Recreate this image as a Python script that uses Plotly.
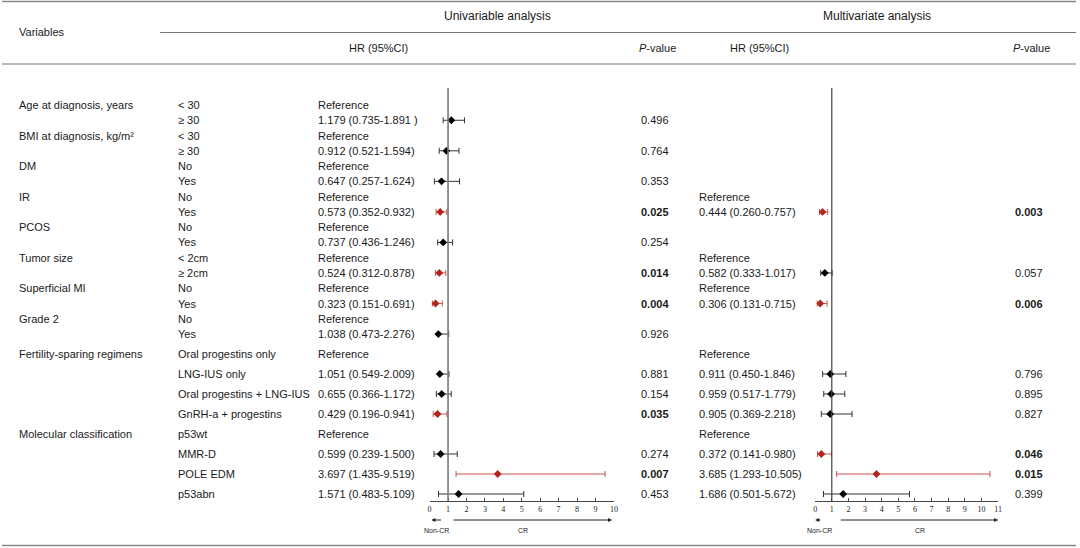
import plotly.graph_objects as go

W, H = 1080, 548

# ---------------- data ----------------
variables = ["Age at diagnosis, years", "", "BMI at diagnosis, kg/m²", "", "DM", "", "IR", "",
             "PCOS", "", "Tumor size", "", "Superficial MI", "", "Grade 2", "",
             "Fertility-sparing regimens", "", "", "", "Molecular classification", "", "", ""]
subcats = ["< 30", "≥ 30", "< 30", "≥ 30", "No", "Yes", "No", "Yes", "No", "Yes",
           "< 2cm", "≥ 2cm", "No", "Yes", "No", "Yes",
           "Oral progestins only", "LNG-IUS only", "Oral progestins + LNG-IUS", "GnRH-a + progestins",
           "p53wt", "MMR-D", "POLE EDM", "p53abn"]

uni_text = ["Reference", "1.179 (0.735-1.891 )", "Reference", "0.912 (0.521-1.594)",
            "Reference", "0.647 (0.257-1.624)", "Reference", "0.573 (0.352-0.932)",
            "Reference", "0.737 (0.436-1.246)", "Reference", "0.524 (0.312-0.878)",
            "Reference", "0.323 (0.151-0.691)", "Reference", "1.038 (0.473-2.276)",
            "Reference", "1.051 (0.549-2.009)", "0.655 (0.366-1.172)", "0.429 (0.196-0.941)",
            "Reference", "0.599 (0.239-1.500)", "3.697 (1.435-9.519)", "1.571 (0.483-5.109)"]
uni_p = ["", "0.496", "", "0.764", "", "0.353", "", "0.025", "", "0.254", "", "0.014",
         "", "0.004", "", "0.926", "", "0.881", "0.154", "0.035", "", "0.274", "0.007", "0.453"]
# plotted values as drawn in the picture
uni_hr = [None, 1.179, None, 0.912, None, 0.647, None, 0.573, None, 0.737, None, 0.524,
          None, 0.323, None, 0.473, None, 0.549, 0.655, 0.429, None, 0.599, 3.697, 1.571]
uni_lo = [None, 0.735, None, 0.521, None, 0.257, None, 0.352, None, 0.436, None, 0.312,
          None, 0.151, None, 0.470, None, 0.545, 0.366, 0.196, None, 0.239, 1.435, 0.483]
uni_hi = [None, 1.891, None, 1.594, None, 1.624, None, 0.932, None, 1.246, None, 0.878,
          None, 0.691, None, 1.038, None, 1.051, 1.172, 0.941, None, 1.500, 9.519, 5.109]

multi_text = ["", "", "", "", "", "", "Reference", "0.444 (0.260-0.757)", "", "",
              "Reference", "0.582 (0.333-1.017)", "Reference", "0.306 (0.131-0.715)", "", "",
              "Reference", "0.911 (0.450-1.846)", "0.959 (0.517-1.779)", "0.905 (0.369-2.218)",
              "Reference", "0.372 (0.141-0.980)", "3.685 (1.293-10.505)", "1.686 (0.501-5.672)"]
multi_p = ["", "", "", "", "", "", "", "0.003", "", "", "", "0.057", "", "0.006", "", "",
           "", "0.796", "0.895", "0.827", "", "0.046", "0.015", "0.399"]
multi_hr = [None, None, None, None, None, None, None, 0.444, None, None, None, 0.582,
            None, 0.306, None, None, None, 0.911, 0.959, 0.905, None, 0.372, 3.685, 1.686]
multi_lo = [None, None, None, None, None, None, None, 0.260, None, None, None, 0.333,
            None, 0.131, None, None, None, 0.450, 0.517, 0.369, None, 0.141, 1.293, 0.501]
multi_hi = [None, None, None, None, None, None, None, 0.757, None, None, None, 1.017,
            None, 0.715, None, None, None, 1.846, 1.779, 2.218, None, 0.980, 10.505, 5.672]

uni_ticks = list(range(0, 11))
multi_ticks = list(range(0, 12))

# ---------------- layout helpers ----------------
def row_y(i):
    return 105 + 15.27 * i if i < 16 else 354 + 20.0 * (i - 16)

def px(x):
    return x / W

def py(y):
    return 1 - y / H

FONT = "Liberation Sans, Arial, sans-serif"
TXT = "#1a1a1a"
RED_M = "#b3241c"
RED_E = "#c9504a"
BLK_M = "#000000"
BLK_E = "#333333"

fig = go.Figure()

def forest(hr, lo, hi, pvals, xa):
    for sig in (False, True):
        xs, ys, ep, em = [], [], [], []
        for i, v in enumerate(hr):
            if v is None:
                continue
            s = float(pvals[i]) < 0.05
            if s != sig:
                continue
            xs.append(v)
            ys.append(row_y(i))
            ep.append(hi[i] - v)
            em.append(v - lo[i])
        fig.add_trace(go.Scatter(
            x=xs, y=ys, mode="markers", xaxis=xa, yaxis="y2",
            marker=dict(symbol="diamond", size=6, color=RED_M if sig else BLK_M),
            error_x=dict(type="data", symmetric=False, array=ep, arrayminus=em,
                         color=RED_E if sig else BLK_E, thickness=1, width=3),
            showlegend=False, hoverinfo="skip", cliponaxis=False))

forest(uni_hr, uni_lo, uni_hi, uni_p, "x2")
forest(multi_hr, multi_lo, multi_hi, multi_p, "x3")

ann = []
def text(x, y, s, anchor="left", size=11, **kw):
    ann.append(dict(x=px(x), y=py(y), xref="paper", yref="paper", text=s, showarrow=False,
                    xanchor=anchor, yanchor="middle", borderpad=0,
                    font=dict(family=FONT, size=size, color=TXT), **kw))

LX = -2  # compensation for annotation inner padding
# header
text(18 + LX, 32, "Variables")
text(498, 16, "Univariable analysis", anchor="center", size=12)
text(880, 16, "Multivariate analysis", anchor="center", size=12)
text(379, 48, "HR (95%CI)", anchor="center")
text(659, 48, "<i>P</i>-value", anchor="center")
text(762, 48, "HR (95%CI)", anchor="center")
text(1035, 48, "<i>P</i>-value", anchor="center")

for i in range(len(subcats)):
    y = row_y(i)
    if variables[i]:
        text(18 + LX, y, variables[i])
    text(178 + LX, y, subcats[i])
    text(319 + LX, y, uni_text[i])
    if uni_p[i]:
        s = uni_p[i]
        text(657, y, "<b>%s</b>" % s if float(s) < 0.05 else s, anchor="center")
    if multi_text[i]:
        text(702 + LX, y, multi_text[i])
    if multi_p[i]:
        s = multi_p[i]
        text(1033, y, "<b>%s</b>" % s if float(s) < 0.05 else s, anchor="center")

# direction arrows and labels under the axes
def arrow(xref, head, tail, y):
    ann.append(dict(x=head, y=py(y), xref=xref, yref="paper", ax=tail, ay=0,
                    axref=xref, ayref="pixel", text="", showarrow=True,
                    arrowhead=2, arrowsize=0.8, arrowwidth=1, arrowcolor="#222"))

def small(xref, x, y, s):
    ann.append(dict(x=x, y=py(y), xref=xref, yref="paper", text=s, showarrow=False,
                    xanchor="center", yanchor="middle", font=dict(family=FONT, size=7, color=TXT)))

arrow("x2", 0.1, 0.7, 520)
arrow("x2", 9.9, 1.22, 520)
small("x2", 0.38, 530, "Non-CR")
small("x2", 5.07, 530, "CR")
arrow("x3", 0.0, 0.4, 520)
arrow("x3", 11.0, 1.45, 520)
small("x3", 0.26, 530, "Non-CR")
small("x3", 6.3, 530, "CR")

shapes = []
def hline(x0, x1, y, color="#777", w=1):
    shapes.append(dict(type="line", xref="paper", yref="paper", x0=px(x0), x1=px(x1),
                       y0=py(y), y1=py(y), line=dict(color=color, width=w)))

hline(0, 1080, 1.5, "#888", 1.5)
hline(159, 1080, 32.5, "#777", 1)
hline(0, 1080, 64, "#777", 1.2)
hline(0, 1080, 545.5, "#888", 1.5)

# reference lines at HR = 1
shapes.append(dict(type="line", xref="x2", yref="paper", x0=1, x1=1, y0=py(88), y1=py(501),
                   line=dict(color="#7a7a7a", width=1.6)))
shapes.append(dict(type="line", xref="x3", yref="paper", x0=1, x1=1, y0=py(88), y1=py(501),
                   line=dict(color="#444", width=1.2)))

axis_common = dict(anchor="y2", ticks="inside", ticklen=3, tickcolor="#444", tickwidth=1,
                   showline=True, linecolor="#444", linewidth=1, showgrid=False, zeroline=False,
                   tickfont=dict(family="Liberation Serif, Times New Roman, serif", size=8, color="#222"),
                   fixedrange=True)

fig.update_layout(
    width=W, height=H, margin=dict(l=0, r=0, t=0, b=0),
    paper_bgcolor="white", plot_bgcolor="rgba(0,0,0,0)",
    xaxis2=dict(domain=[430 / W, 615.3 / W], range=[0, 10], tickvals=uni_ticks, **axis_common),
    xaxis3=dict(domain=[817.7 / W, 1001.7 / W], range=[0, 11], tickvals=multi_ticks, **axis_common),
    yaxis2=dict(domain=[1 - 501 / H, 1], range=[501, 0], visible=False, fixedrange=True),
    annotations=ann, shapes=shapes, showlegend=False,
)

fig.write_html("out.html")
